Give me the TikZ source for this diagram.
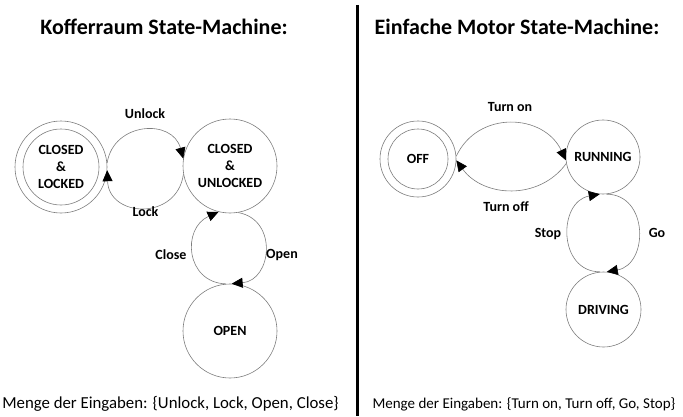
\documentclass[tikz,border=0pt]{standalone}
\usepackage{fontspec}
\setmainfont{Carlito}
\usetikzlibrary{arrows.meta}
\definecolor{linegray}{RGB}{125,125,125}
\begin{document}
\begin{tikzpicture}[x=1pt,y=1pt,
  state/.style={circle, draw=linegray, line width=0.6pt, inner sep=0pt,
    font=\fontsize{14}{17}\selectfont\bfseries, align=center},
  trans/.style={draw=linegray, line width=0.6pt,
    -{Triangle[length=11pt,width=10pt,color=black,fill=black]}},
  lbl/.style={font=\fontsize{14}{17}\selectfont\bfseries, inner sep=0pt},
  heading/.style={font=\fontsize{22}{26}\selectfont\bfseries, inner sep=0pt},
  footer/.style={inner sep=0pt}]
\useasboundingbox (0,0) rectangle (683,416);

% headings and divider
\node[heading] (t1) at (164,389) {Kofferraum State-Machine:};
\node[heading] (t2) at (517,389) {Einfache Motor State-Machine:};
\coordinate (divtop) at (357,411);
\coordinate (divbot) at (357,0);
\draw[line width=3pt] (divtop) -- (divbot);

% trunk state machine
\node[state, minimum size=92pt] (lk) at (61,249) {};
\node[state, minimum size=76pt] (lkin) at (61,249) {CLOSED\\\&\\LOCKED};
\node[state, minimum size=94pt] (ul) at (230,250) {CLOSED\\\&\\UNLOCKED};
\node[state, minimum size=94pt] (op) at (230,85) {OPEN};

\draw[trans] (lk.5) to[out=81,in=105,looseness=1.4] (ul.171);
\draw[trans] (ul.190) to[out=-98,in=-88,looseness=1.59] (lk.-4);
\draw[trans] (op.95) to[out=178,in=204,looseness=1.43] (ul.256);
\draw[trans] (ul.-80) to[out=-10,in=5,looseness=1.45] (op.88);

\node[lbl] (l1) at (145,302) {Unlock};
\node[lbl] (l2) at (145.5,204.3) {Lock};
\node[lbl] (l3) at (171,161) {Close};
\node[lbl] (l4) at (282,161) {Open};

% motor state machine
\node[state, minimum size=76pt] (off) at (418,257) {};
\node[state, minimum size=60pt] (offin) at (418,257) {OFF};
\node[state, minimum size=74pt] (run) at (603,259) {RUNNING};
\node[state, minimum size=75pt] (drv) at (603.5,106.5) {DRIVING};

\draw[trans] (off.4) to[out=65,in=115,looseness=1.2] (run.185);
\draw[trans] (run.190) to[out=-126,in=-54,looseness=1.07] (off.-2);
\draw[trans] (drv.95) to[out=180,in=190,looseness=1.4] (run.-95);
\draw[trans] (run.-85) to[out=0,in=10,looseness=1.4] (drv.85);

\node[lbl] (m1) at (510,309.3) {Turn on};
\node[lbl] (m2) at (506,209.3) {Turn off};
\node[lbl] (m3) at (548,182) {Stop};
\node[lbl] (m4) at (657,183) {Go};

% input alphabets
\node[footer, font=\fontsize{16.8}{20}\selectfont] (f1) at (170.5,12)
  {Menge der Eingaben: \{Unlock, Lock, Open, Close\}};
\node[footer, font=\fontsize{15}{18}\selectfont] (f2) at (524,12)
  {Menge der Eingaben: \{Turn on, Turn off, Go, Stop\}};
\end{tikzpicture}
\end{document}
